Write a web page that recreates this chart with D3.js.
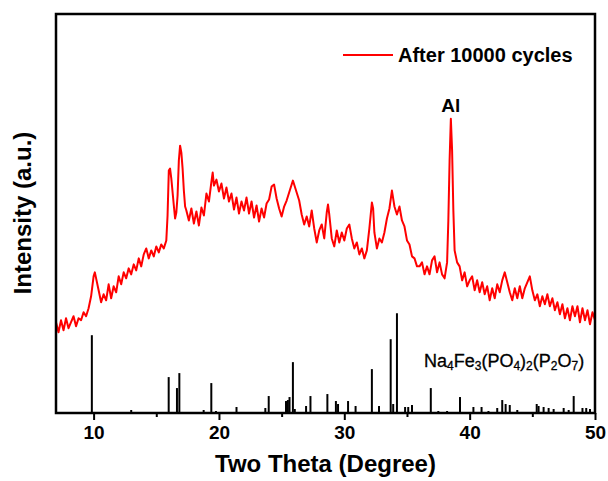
<!DOCTYPE html>
<html>
<head>
<meta charset="utf-8">
<script src="https://cdn.jsdelivr.net/npm/d3@7"></script>
<style>
    body { margin: 0; background: #fff; }
    text { font-family: 'Liberation Sans', Arial, sans-serif; }
</style>
</head>
<body>
<div id="chart"></div>
<script>
// Red pattern after cycling: [two theta, intensity]
const afterCycles = [
    [7.0, 91], [7.2, 81], [7.4, 93], [7.6, 83], [7.8, 95], [8.0, 85], [8.2, 91], [8.4, 97], [8.6, 87], [8.8, 95],
    [9.0, 93], [9.2, 101], [9.4, 97], [9.6, 105], [9.8, 117], [10.0, 137], [10.1, 141], [10.2, 135], [10.4, 123], [10.6, 111],
    [10.8, 119], [11.0, 113], [11.2, 129], [11.4, 115], [11.6, 127], [11.8, 121], [12.0, 137], [12.2, 129], [12.4, 141], [12.6, 135],
    [12.8, 145], [13.0, 139], [13.2, 149], [13.4, 143], [13.6, 155], [13.8, 147], [14.0, 159], [14.2, 165], [14.4, 155], [14.6, 163],
    [14.8, 157], [15.0, 167], [15.2, 161], [15.4, 169], [15.6, 165], [15.8, 173], [15.9, 198], [16.0, 243], [16.1, 245], [16.2, 235],
    [16.4, 208], [16.5, 195], [16.6, 201], [16.7, 218], [16.8, 253], [16.9, 268], [17.0, 261], [17.1, 245], [17.2, 223], [17.3, 207],
    [17.4, 203], [17.6, 193], [17.8, 205], [18.0, 190], [18.2, 202], [18.4, 188], [18.6, 206], [18.8, 198], [19.0, 220], [19.2, 212],
    [19.4, 232], [19.5, 241], [19.6, 228], [19.8, 234], [20.0, 222], [20.2, 230], [20.4, 215], [20.6, 226], [20.8, 212], [21.0, 220],
    [21.2, 204], [21.4, 216], [21.6, 200], [21.8, 212], [22.0, 203], [22.2, 216], [22.4, 200], [22.6, 212], [22.8, 196], [23.0, 208],
    [23.2, 192], [23.4, 205], [23.6, 196], [23.8, 210], [24.0, 214], [24.2, 227], [24.4, 229], [24.6, 215], [24.8, 205], [25.0, 197],
    [25.2, 207], [25.4, 213], [25.6, 221], [25.8, 229], [25.9, 233], [26.0, 229], [26.2, 221], [26.4, 213], [26.6, 199], [26.8, 189],
    [27.0, 197], [27.2, 187], [27.4, 203], [27.6, 185], [27.8, 171], [28.0, 183], [28.2, 189], [28.4, 175], [28.6, 201], [28.7, 209],
    [28.8, 199], [29.0, 175], [29.2, 167], [29.4, 183], [29.6, 171], [29.8, 181], [30.0, 173], [30.2, 185], [30.4, 189], [30.6, 175],
    [30.8, 165], [31.0, 171], [31.2, 159], [31.4, 165], [31.6, 155], [31.8, 163], [32.0, 185], [32.2, 211], [32.3, 205], [32.4, 181],
    [32.6, 165], [32.8, 175], [33.0, 171], [33.2, 181], [33.4, 195], [33.6, 205], [33.8, 223], [34.0, 207], [34.2, 199], [34.4, 207],
    [34.6, 193], [34.8, 187], [35.0, 173], [35.2, 169], [35.4, 157], [35.6, 155], [35.8, 147], [36.0, 147], [36.2, 151], [36.4, 139],
    [36.6, 147], [36.8, 139], [37.0, 153], [37.2, 157], [37.4, 141], [37.6, 151], [37.8, 139], [38.0, 135], [38.2, 151], [38.3, 193],
    [38.4, 253], [38.5, 295], [38.6, 263], [38.7, 203], [38.8, 163], [39.0, 151], [39.2, 147], [39.4, 133], [39.6, 141], [39.8, 127],
    [40.0, 133], [40.2, 137], [40.4, 123], [40.6, 133], [40.8, 121], [41.0, 131], [41.2, 119], [41.4, 127], [41.6, 113], [41.8, 125],
    [42.0, 115], [42.2, 129], [42.4, 121], [42.6, 133], [42.8, 141], [43.0, 131], [43.2, 121], [43.4, 113], [43.6, 125], [43.8, 115],
    [44.0, 127], [44.2, 115], [44.4, 125], [44.6, 131], [44.8, 137], [45.0, 123], [45.2, 113], [45.4, 119], [45.6, 107], [45.8, 117],
    [46.0, 109], [46.2, 119], [46.4, 107], [46.6, 115], [46.8, 103], [47.0, 111], [47.2, 99], [47.4, 109], [47.6, 95], [47.8, 105],
    [48.0, 93], [48.2, 107], [48.4, 97], [48.6, 107], [48.8, 91], [49.0, 105], [49.2, 93], [49.4, 103], [49.6, 89], [49.8, 101],
    [50.0, 93]
]

// Reference pattern sticks: [two theta, relative intensity]
const refPeaks = [
    [9.86, 78], [13.0, 3], [15.99, 36], [16.65, 25], [16.84, 40], [18.78, 3], [19.39, 30], [19.76, 2], [21.4, 6], [21.7, 1],
    [23.7, 5], [23.97, 17], [25.35, 12], [25.5, 13], [25.63, 16], [25.9, 51], [26.05, 4], [26.95, 7], [27.3, 17], [28.65, 19],
    [29.33, 12], [29.5, 9], [30.3, 12], [30.9, 7], [32.2, 44], [32.77, 7], [33.7, 74], [33.9, 9], [34.2, 100], [34.85, 6],
    [35.1, 6], [35.4, 8], [36.9, 25], [37.5, 2], [38.2, 2], [39.23, 16], [40.3, 6], [40.95, 6], [41.5, 2], [42.2, 5],
    [42.6, 13], [42.87, 9], [43.2, 8], [43.8, 3], [45.35, 9], [45.5, 7], [45.9, 6], [46.3, 5], [46.7, 4], [47.5, 5],
    [47.9, 3], [48.3, 17], [49.0, 5], [49.3, 5], [49.6, 4]
]

const xMajorTicks = [10, 20, 30, 40, 50]
const xMinorTicks = [15, 25, 35, 45]

const chartWidth = 608
const chartHeight = 481
const plotLeft = 56
const plotRight = 595
const plotTop = 14
const plotBottom = 413

let svg = d3.select('#chart')
            .append('svg')
            .attr('width', chartWidth)
            .attr('height', chartHeight)

// Scales
let xScale = d3.scaleLinear()
    .domain([7, 50])
    .range([plotLeft, plotRight])

let yScale = d3.scaleLinear()
    .domain([0, 400])
    .range([plotBottom, plotTop])

// Reference sticks
svg.append('g').selectAll('line')
    .data(refPeaks)
    .enter()
    .append('line')
    .attr('x1', (d) => xScale(d[0]))
    .attr('x2', (d) => xScale(d[0]))
    .attr('y1', yScale(0))
    .attr('y2', (d) => yScale(d[1]))
    .attr('stroke', '#000')
    .attr('stroke-width', 2)

// Red curve
let line = d3.line()
    .x((d) => xScale(d[0]))
    .y((d) => yScale(d[1]))

svg.append('path')
    .datum(afterCycles)
    .attr('d', line)
    .attr('fill', 'none')
    .attr('stroke', '#ff0000')
    .attr('stroke-width', 2)
    .attr('stroke-linejoin', 'round')

// Axes (bottom only has ticks)
let xAxis = d3.axisBottom(xScale)
    .tickValues(xMajorTicks)
    .tickSize(7)
    .tickPadding(6)
    .tickFormat(d3.format('d'))

let gx = svg.append('g')
    .attr('transform', 'translate(0,' + plotBottom + ')')
    .call(xAxis)
gx.select('.domain').remove()
gx.selectAll('line').attr('stroke', '#000').attr('stroke-width', 2)
gx.selectAll('text')
    .attr('font-size', '19px')
    .attr('font-weight', 'bold')
    .attr('fill', '#000')
    .style('font-family', "'Liberation Sans', Arial, sans-serif")

let xMinor = d3.axisBottom(xScale)
    .tickValues(xMinorTicks)
    .tickSize(4)
    .tickFormat('')

let gm = svg.append('g')
    .attr('transform', 'translate(0,' + plotBottom + ')')
    .call(xMinor)
gm.select('.domain').remove()
gm.selectAll('line').attr('stroke', '#000').attr('stroke-width', 2)

// Frame
svg.append('rect')
    .attr('x', plotLeft)
    .attr('y', plotTop)
    .attr('width', plotRight - plotLeft)
    .attr('height', plotBottom - plotTop)
    .attr('fill', 'none')
    .attr('stroke', '#000')
    .attr('stroke-width', 2.5)

// Axis titles
svg.append('text')
    .attr('x', (plotLeft + plotRight) / 2)
    .attr('y', 472)
    .attr('text-anchor', 'middle')
    .attr('font-size', '24px')
    .attr('font-weight', 'bold')
    .text('Two Theta (Degree)')

svg.append('text')
    .attr('transform', 'translate(31,213) rotate(-90)')
    .attr('text-anchor', 'middle')
    .attr('font-size', '24px')
    .attr('font-weight', 'bold')
    .text('Intensity (a.u.)')

// Legend
svg.append('line')
    .attr('x1', 343)
    .attr('x2', 393)
    .attr('y1', 55)
    .attr('y2', 55)
    .attr('stroke', '#ff0000')
    .attr('stroke-width', 2)

svg.append('text')
    .attr('x', 398)
    .attr('y', 62)
    .attr('font-size', '20px')
    .attr('font-weight', 'bold')
    .text('After 10000 cycles')

// Peak annotations
svg.append('text')
    .attr('x', xScale(38.5))
    .attr('y', 112)
    .attr('text-anchor', 'middle')
    .attr('font-size', '19px')
    .attr('font-weight', 'bold')
    .text('Al')

let formula = svg.append('text')
    .attr('x', 424)
    .attr('y', 367)
    .attr('font-size', '18px')
    .attr('fill', '#000')
    .attr('stroke', '#000')
    .attr('stroke-width', 0.3)

const formulaParts = [['Na', false], ['4', true], ['Fe', false], ['3', true], ['(PO', false], ['4', true],
    [')', false], ['2', true], ['(P', false], ['2', true], ['O', false], ['7', true], [')', false]]

formulaParts.forEach((p) => {
    formula.append('tspan')
        .attr('font-size', p[1] ? '12px' : '18px')
        .attr('baseline-shift', p[1] ? '-25%' : '0')
        .text(p[0])
})
</script>
</body>
</html>
